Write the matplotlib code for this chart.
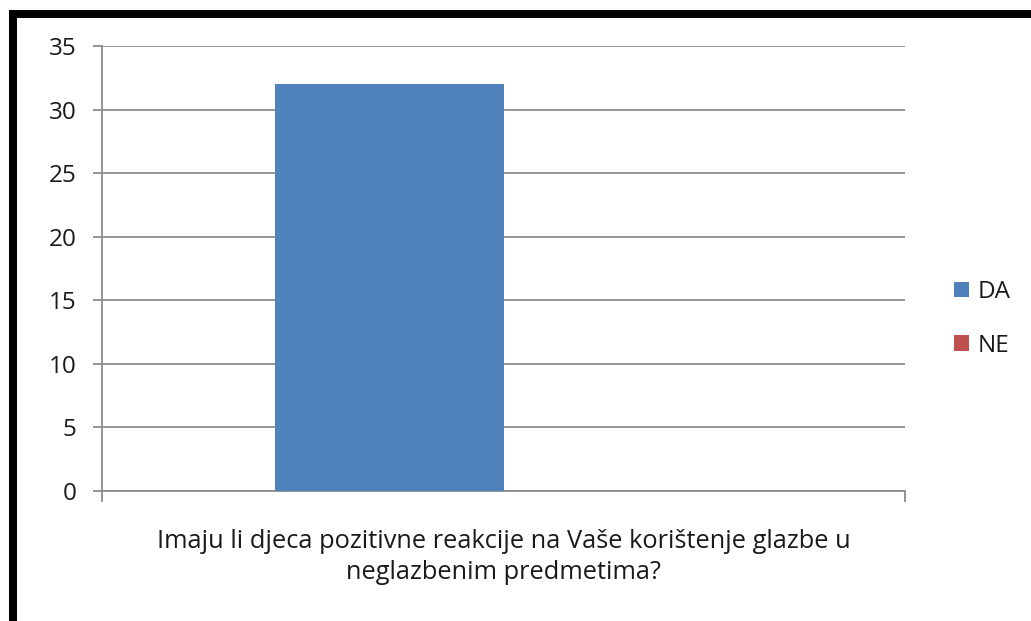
import matplotlib
matplotlib.use('Agg')
import matplotlib.pyplot as plt
from matplotlib.patches import Rectangle, Patch

# data
category = 'Imaju li djeca pozitivne reakcije na Vaše korištenje glazbe u\nneglazbenim predmetima?'
series = ['DA', 'NE']
values = [32, 0]
colors = ['#4F81BD', '#C0504D']
y_ticks = [0, 5, 10, 15, 20, 25, 30, 35]

plt.rcParams['font.family'] = ['Open Sans', 'DejaVu Sans']

fig = plt.figure(figsize=(10.31, 6.21), dpi=100)
ax = fig.add_axes([102 / 1031, 1 - 491 / 621, (905 - 102) / 1031, (491 - 46) / 621])

bar_w = 0.285
offsets = [-bar_w / 2, bar_w / 2]
for name, v, c, off in zip(series, values, colors, offsets):
    ax.bar(0 + off, v, width=bar_w, color=c, label=name, zorder=3)

ax.set_xlim(-0.5, 0.5)
ax.set_ylim(0, 35)
ax.set_yticks(y_ticks)
ax.yaxis.grid(True, color='#8c8c8c', linewidth=1.3, zorder=0)

# category label at the centre, tick marks at the category edges
ax.set_xticks([-0.5, 0.5])
ax.set_xticklabels(['', ''])
ax.set_xticks([0], minor=True)
ax.set_xticklabels([category], minor=True, fontsize=18.3, color='#1a1a1a', linespacing=1.32)
ax.tick_params(axis='x', which='minor', length=0, pad=27)
ax.tick_params(axis='x', which='major', length=8, width=1.3, color='#8c8c8c', direction='out')
ax.tick_params(axis='y', length=6.5, width=1.3, color='#8c8c8c', labelsize=17.5, labelcolor='#1a1a1a', pad=12)

for side in ['top', 'right']:
    ax.spines[side].set_visible(False)
for side in ['left', 'bottom']:
    ax.spines[side].set_color('#8c8c8c')
    ax.spines[side].set_linewidth(1.3)

handles = [Patch(facecolor=c, edgecolor='none') for c in colors]
fig.legend(handles, series, loc='center left', bbox_to_anchor=(932 / 1031, 1 - 319 / 621),
           frameon=False, fontsize=17.5, handlelength=0.62, handleheight=0.62,
           handletextpad=0.37, labelspacing=1.22, labelcolor='#1a1a1a')

# black frame on top and left edges
fig.patches.append(Rectangle((9 / 1031, 1 - 18 / 621), 1, 8 / 621, transform=fig.transFigure,
                             facecolor='black', edgecolor='none', figure=fig))
fig.patches.append(Rectangle((9 / 1031, 0), 8 / 1031, 1 - 10 / 621, transform=fig.transFigure,
                             facecolor='black', edgecolor='none', figure=fig))

fig.savefig('out.png', dpi=100, facecolor='white')
